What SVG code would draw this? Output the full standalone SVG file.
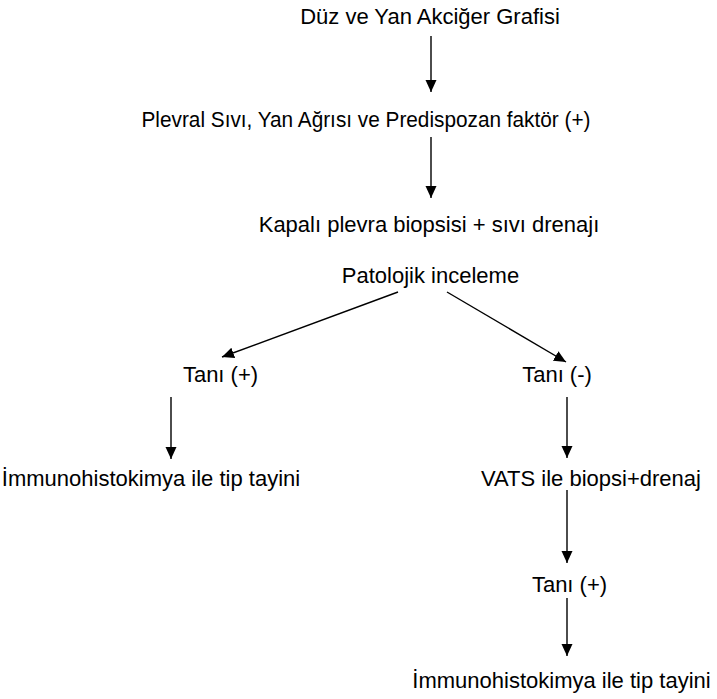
<svg xmlns="http://www.w3.org/2000/svg" width="717" height="699" viewBox="0 0 717 699">
  <style>
    text { font-family: "Liberation Sans", Arial, sans-serif; font-size: 22px; fill: #000; text-anchor: middle; }
    .edge { stroke: #000; stroke-width: 1.4; fill: none; marker-end: url(#head); }
  </style>
  <defs>
    <marker id="head" markerUnits="userSpaceOnUse" markerWidth="12" markerHeight="12" viewBox="0 0 12 12" refX="12" refY="6" orient="auto">
      <path d="M0,0.5 L12,6 L0,11.5 Z" fill="#000"/>
    </marker>
  </defs>
  <rect width="717" height="699" fill="#fff"/>

  <g id="connectors">
    <line class="edge" x1="431" y1="36" x2="431" y2="92"/>
    <line class="edge" x1="431" y1="137" x2="431" y2="198"/>
    <line class="edge" x1="398" y1="292" x2="222" y2="357"/>
    <line class="edge" x1="447" y1="292" x2="566" y2="362"/>
    <line class="edge" x1="171" y1="397" x2="171" y2="459"/>
    <line class="edge" x1="567" y1="397" x2="567" y2="458"/>
    <line class="edge" x1="567" y1="490" x2="567" y2="563"/>
    <line class="edge" x1="567" y1="598" x2="567" y2="656"/>
  </g>

  <g id="n-grafi"><text x="430" y="24">Düz ve Yan Akciğer Grafisi</text></g>
  <g id="n-bulgu"><text x="366" y="127" font-size="21" textLength="449" lengthAdjust="spacingAndGlyphs">Plevral Sıvı, Yan Ağrısı ve Predispozan faktör (+)</text></g>
  <g id="n-biyopsi"><text x="429" y="232">Kapalı plevra biopsisi + sıvı drenajı</text></g>
  <g id="n-patoloji"><text x="430.5" y="283">Patolojik inceleme</text></g>
  <g id="n-tani-pos"><text x="220.5" y="382">Tanı (+)</text></g>
  <g id="n-tani-neg"><text x="557" y="382">Tanı (-)</text></g>
  <g id="n-ihk-sol"><text x="151" y="486">İmmunohistokimya ile tip tayini</text></g>
  <g id="n-vats"><text x="591" y="486">VATS ile biopsi+drenaj</text></g>
  <g id="n-tani-vats"><text x="569.5" y="592">Tanı (+)</text></g>
  <g id="n-ihk-sag"><text x="561.5" y="688">İmmunohistokimya ile tip tayini</text></g>
</svg>
